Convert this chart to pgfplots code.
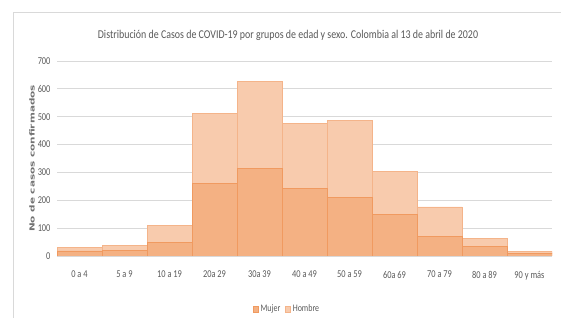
\documentclass[border=0pt]{standalone}
\usepackage{pgfplots}
\pgfplotsset{compat=1.18}
\usepackage{fontspec}
\setmainfont{Carlito}
\newfontfamily\dejavu{DejaVu Sans}
\definecolor{mujer}{HTML}{F4B183}
\definecolor{mujeredge}{HTML}{F09A60}
\definecolor{hombre}{HTML}{F8CBAD}
\definecolor{hombreedge}{HTML}{F4B48A}
\definecolor{txt}{HTML}{595959}
\definecolor{gridc}{HTML}{D9D9D9}
\newcommand{\sq}[1]{\scalebox{0.8}[1]{#1}}
\begin{document}
\begin{tikzpicture}
\path[use as bounding box] (0,0) rectangle (561bp,318bp);
\draw[gridc, line width=0.75bp] (13bp,-2bp) -- (13bp,306bp) -- (563bp,306bp);
\node[txt, font=\fontsize{12}{14}\selectfont] at (288bp,283bp) {\scalebox{0.83}[1]{Distribución de Casos de COVID-19 por grupos de edad y sexo. Colombia al 13 de abril de 2020}};
\begin{axis}[
  at={(57bp,62bp)}, anchor=south west, scale only axis,
  width=495bp, height=195bp,
  ybar stacked, bar width=1,
  xmin=-0.5, xmax=10.5, ymin=0, ymax=700,
  xtick={0,...,10},
  xticklabels={{\sq{0 a 4}},{\sq{5 a 9}},{\sq{10 a 19}},{\sq{20a 29}},{\sq{30a 39}},{\sq{40 a 49}},{\sq{50 a 59}},{\sq{60a 69}},{\sq{70 a 79}},{\sq{80 a 89}},{\sq{90 y más}}},
  ytick={0,100,...,700},
  yticklabel={\sq{\pgfmathprintnumber{\tick}}},
  axis line style={draw=none},
  ymajorgrids, grid style={gridc, line width=0.75bp},
  major tick length=0pt,
  tick label style={txt, font=\fontsize{10.5}{12}\selectfont},
  xticklabel style={yshift=-11.5bp},
  yticklabel style={xshift=-3bp},
  /pgf/number format/assume math mode=true,
  ylabel={\scalebox{1.5}[1]{\dejavu\bfseries No de casos confirmados}},
  ylabel style={at={(axis description cs:-0.0505,0.5)}, anchor=center, font=\fontsize{7}{8}\selectfont, color=txt!85},
  legend style={at={(axis description cs:0.465,-0.273)}, anchor=center, draw=none, fill=none,
    font=\fontsize{10}{11}\selectfont, text=txt, legend columns=2,
    /tikz/every even column/.append style={column sep=3bp}},
  legend image code/.code={\draw[#1, line width=0.5bp] (0bp,-2.8bp) rectangle (5bp,2.8bp);},
]
\addplot[fill=mujer, draw=mujeredge, line width=0.8bp] coordinates {
 (0,18) (1,20) (2,48) (3,260) (4,314) (5,244) (6,210) (7,150) (8,71) (9,35) (10,10)};
\addplot[fill=hombre, draw=hombreedge, line width=0.8bp] coordinates {
 (0,12) (1,18) (2,62) (3,253) (4,313) (5,231) (6,275) (7,152) (8,105) (9,27) (10,5)};
\legend{\sq{Mujer},\sq{Hombre}}
\end{axis}
\end{tikzpicture}
\end{document}
